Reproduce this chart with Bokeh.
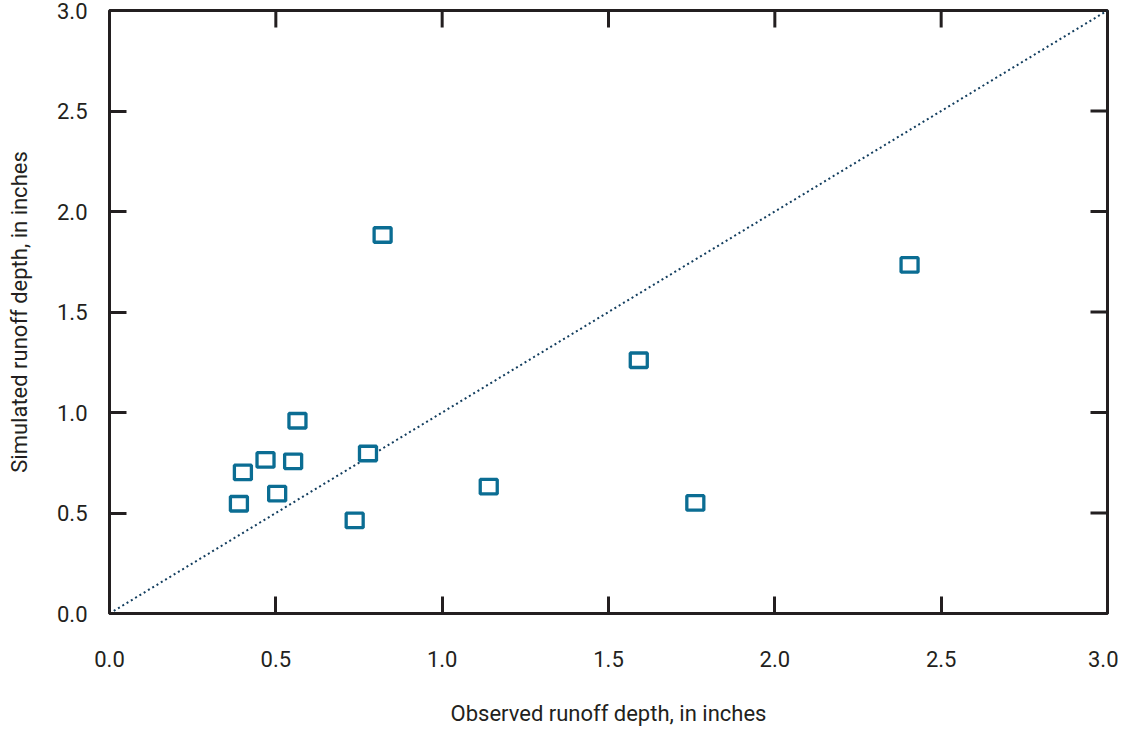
import math
from bokeh.plotting import figure
from bokeh.models import LinearAxis, FixedTicker, PrintfTickFormatter, Range1d
from bokeh.embed import file_html
from bokeh.resources import INLINE

observed = [0.821, 2.405, 1.591, 0.565, 0.469, 0.552, 0.401, 0.777, 0.504, 0.389, 1.140, 1.761, 0.737]
simulated = [1.883, 1.734, 1.260, 0.959, 0.764, 0.757, 0.702, 0.796, 0.596, 0.546, 0.631, 0.550, 0.463]
line_x = [0.0, 3.0]
line_y = [0.0, 3.0]
ticks = [0.0, 0.5, 1.0, 1.5, 2.0, 2.5, 3.0]
x_title = "Observed runoff depth, in inches"
y_title = "Simulated runoff depth, in inches"

FONT = "Roboto"
FRAME = "#231f20"
MARK = "#0b6d93"
XMIN, XMAX = 0.0, 3.0
YMIN, YMAX = 0.0, 3.0

p = figure(width=1118, height=728, output_backend="svg", toolbar_location=None,
           x_range=Range1d(XMIN, XMAX), y_range=Range1d(YMIN, YMAX),
           x_axis_location=None, y_axis_location=None,
           min_border_left=109, min_border_top=10, min_border_right=11, min_border_bottom=114)
p.grid.visible = False
p.outline_line_color = FRAME
p.outline_line_width = 3
p.background_fill_color = "white"
p.border_fill_color = "white"


def make_axis():
    ax = LinearAxis(ticker=FixedTicker(ticks=ticks), formatter=PrintfTickFormatter(format="%.1f"))
    ax.axis_line_color = None
    ax.major_tick_in = 17
    ax.major_tick_out = 0
    ax.major_tick_line_color = FRAME
    ax.major_tick_line_width = 3
    ax.minor_tick_line_color = None
    ax.major_label_text_font = FONT
    ax.major_label_text_font_size = "22px"
    ax.major_label_text_color = "#231f20"
    ax.axis_label_text_font = FONT
    ax.axis_label_text_font_size = "22px"
    ax.axis_label_text_font_style = "normal"
    ax.axis_label_text_color = "#231f20"
    return ax


xb = make_axis()
xb.axis_label = x_title
xb.major_label_standoff = 37
xb.axis_label_standoff = 31
p.add_layout(xb, "below")

yl = make_axis()
yl.axis_label = y_title
yl.major_label_standoff = 22
yl.axis_label_standoff = 22
p.add_layout(yl, "left")

# inward ticks on the top and right edges (half of each dash is clipped by the frame)
p.scatter(ticks, [YMAX] * len(ticks), marker="dash", size=34, angle=math.pi / 2,
          line_color=FRAME, line_width=3)
p.scatter([XMAX] * len(ticks), ticks, marker="dash", size=34,
          line_color=FRAME, line_width=3)

p.line(line_x, line_y, line_color="#123d5e", line_width=2, line_dash="2 3")
p.rect(observed, simulated, width=17, height=14.5, width_units="screen", height_units="screen",
       fill_color="white", line_color=MARK, line_width=3.3)

open("out.html", "w").write(file_html(p, INLINE))
